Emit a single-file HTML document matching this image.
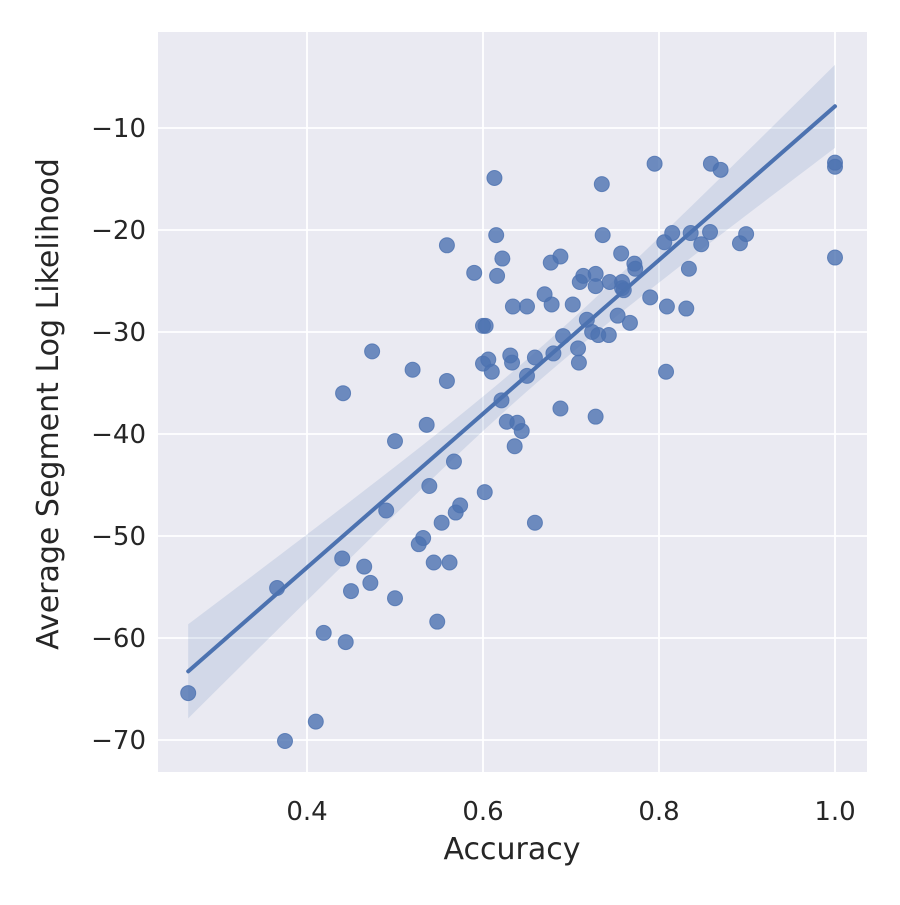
<!DOCTYPE html>
<html><head><meta charset="utf-8"><style>
html,body{margin:0;padding:0;background:#fff;}
svg text{font-family:"DejaVu Sans","Liberation Sans",sans-serif;fill:#262626;}
</style></head><body>
<svg id="chart" width="900" height="900" viewBox="0 0 900 900" xmlns="http://www.w3.org/2000/svg">
<rect x="158" y="32" width="709" height="740" fill="#eaeaf2"/>
<g id="grid"></g><g id="band"></g><g id="points"></g><g id="line"></g><g id="ticks"></g>
<text x="512" y="859" font-size="30" text-anchor="middle">Accuracy</text>
<text transform="translate(58,404) rotate(-90)" font-size="30" text-anchor="middle">Average Segment Log Likelihood</text>
</svg>
<script>
const xTicks=[0.4,0.6,0.8,1.0];
const xTickLabels=["0.4","0.6","0.8","1.0"];
const yTicks=[-10,-20,-30,-40,-50,-60,-70];
const yTickLabels=["\u221210","\u221220","\u221230","\u221240","\u221250","\u221260","\u221270"];
const accuracy=[0.265,0.375,0.41,0.366,0.419,0.444,0.44,0.45,0.465,0.472,0.441,0.474,0.5,0.49,0.5,0.52,0.536,0.539,0.527,0.532,0.544,0.548,0.553,0.562,0.559,0.559,0.567,0.569,0.574,0.59,0.6,0.603,0.6,0.606,0.61,0.602,0.613,0.615,0.616,0.622,0.621,0.631,0.633,0.634,0.627,0.639,0.636,0.644,0.65,0.65,0.659,0.659,0.67,0.677,0.678,0.68,0.688,0.688,0.691,0.702,0.708,0.709,0.71,0.714,0.718,0.724,0.728,0.728,0.728,0.731,0.735,0.736,0.743,0.744,0.753,0.757,0.758,0.758,0.76,0.767,0.772,0.773,0.79,0.795,0.806,0.815,0.809,0.808,0.831,0.834,0.836,0.848,0.859,0.858,0.87,0.892,0.899,1.0,1.0,1.0];
const loglik=[-65.4,-70.1,-68.2,-55.1,-59.5,-60.4,-52.2,-55.4,-53.0,-54.6,-36.0,-31.9,-40.7,-47.5,-56.1,-33.7,-39.1,-45.1,-50.8,-50.2,-52.6,-58.4,-48.7,-52.6,-21.5,-34.8,-42.7,-47.7,-47.0,-24.2,-29.4,-29.4,-33.1,-32.7,-33.9,-45.7,-14.9,-20.5,-24.5,-22.8,-36.7,-32.3,-33.0,-27.5,-38.8,-38.9,-41.2,-39.7,-34.3,-27.5,-32.5,-48.7,-26.3,-23.2,-27.3,-32.1,-22.6,-37.5,-30.4,-27.3,-31.6,-33.0,-25.1,-24.5,-28.8,-30.0,-24.3,-25.5,-38.3,-30.3,-15.5,-20.5,-30.3,-25.1,-28.4,-22.3,-25.1,-25.7,-25.9,-29.1,-23.3,-23.8,-26.6,-13.5,-21.2,-20.3,-27.5,-33.9,-27.7,-23.8,-20.3,-21.4,-13.5,-20.2,-14.1,-21.3,-20.4,-13.4,-13.8,-22.7];
const NS="http://www.w3.org/2000/svg";
const X=v=>307+(v-0.4)*880;
const Y=v=>128+(-10-v)*10.2;
function mk(tag,attrs,parent){const e=document.createElementNS(NS,tag);for(const k in attrs)e.setAttribute(k,attrs[k]);document.getElementById(parent).appendChild(e);return e;}
xTicks.forEach((t,i)=>{
  const g=mk('line',{x1:X(t),x2:X(t),y1:32,y2:772,stroke:'#fff','stroke-width':1.8},'grid');
  
  
  const l=mk('text',{x:X(t),y:820,'font-size':26,'text-anchor':'middle'},'ticks');l.textContent=xTickLabels[i];
  
  
});
yTicks.forEach((t,i)=>{
  const g=mk('line',{x1:158,x2:867,y1:Y(t),y2:Y(t),stroke:'#fff','stroke-width':1.8},'grid');
  
  
  const l=mk('text',{x:146,y:Y(t)+9,'font-size':26,'text-anchor':'end'},'ticks');l.textContent=yTickLabels[i];
  
  
});
const n=accuracy.length;
const mx=accuracy.reduce((a,b)=>a+b)/n, my=loglik.reduce((a,b)=>a+b)/n;
let sxx=0,sxy=0;for(let i=0;i<n;i++){sxx+=(accuracy[i]-mx)**2;sxy+=(accuracy[i]-mx)*(loglik[i]-my);}
const b=sxy/sxx,a=my-b*mx;
let sse=0;for(let i=0;i<n;i++)sse+=(loglik[i]-a-b*accuracy[i])**2;
const s=Math.sqrt(sse/(n-2));
const xmin=Math.min(...accuracy),xmax=Math.max(...accuracy);
const up=[],lo=[];
for(let k=0;k<=50;k++){const x=xmin+(xmax-xmin)*k/50;const se=s*Math.sqrt(1/n+(x-mx)**2/sxx);const yh=a+b*x;up.push(X(x)+','+Y(yh+1.98*se));lo.unshift(X(x)+','+Y(yh-1.98*se));}
const band=mk('polygon',{points:up.concat(lo).join(' '),fill:'#4c72b0','fill-opacity':0.15},'band');


accuracy.forEach((v,i)=>{
  const c=mk('circle',{cx:X(v),cy:Y(loglik[i]),r:7.5,fill:'#4c72b0','fill-opacity':0.8,stroke:'#4c72b0','stroke-opacity':0.8,'stroke-width':1},'points');
  
  
});
const rl=mk('line',{x1:X(xmin),y1:Y(a+b*xmin),x2:X(xmax),y2:Y(a+b*xmax),stroke:'#4c72b0','stroke-width':4,'stroke-linecap':'round'},'line');


</script>
</body></html>
